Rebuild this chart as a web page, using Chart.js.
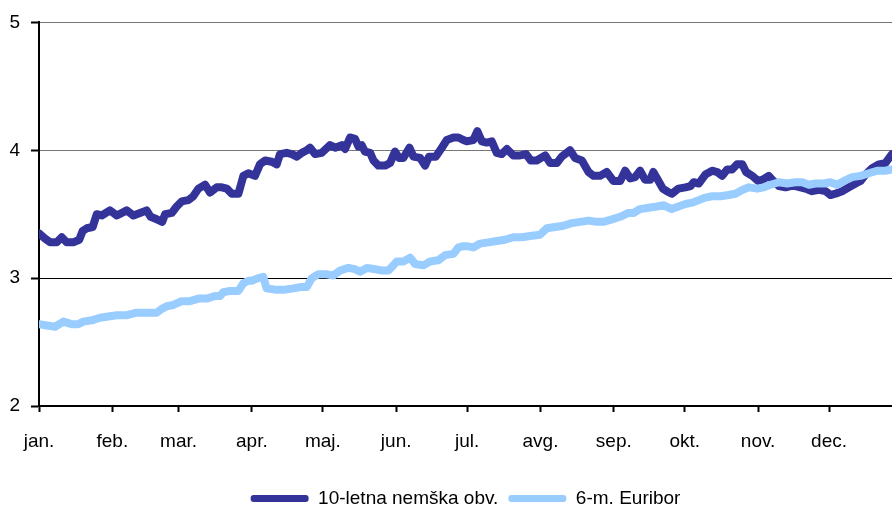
<!DOCTYPE html>
<html>
<head>
<meta charset="utf-8">
<script src="https://cdn.jsdelivr.net/npm/chart.js@4"></script>
<style>
  body { margin: 0; background: #fff; }
  #wrap { width: 892px; height: 513px; }
</style>
</head>
<body>
<div id="wrap"><canvas id="chart"></canvas></div>
<script>
// months: tick positions are day-of-year of each month start
const monthLabels = ["jan.", "feb.", "mar.", "apr.", "maj.", "jun.", "jul.", "avg.", "sep.", "okt.", "nov.", "dec."];
const monthStarts = [0, 31, 59, 90, 120, 151, 181, 212, 243, 273, 304, 334];
const lastDay = 360.6;

const seriesNames = ["10-letna nemška obv.", "6-m. Euribor"];

// 10-year German bund yield
const bundDays = [0, 2.5, 4.7, 7.5, 9.6, 11.7, 14.5, 17, 18.5, 20.2, 22.7, 24.4, 26.5, 30, 32.9, 37.1, 39.9, 42.7, 45.5, 47.2,
  49.8, 52.1, 53.3, 56.1, 58.2, 60.3, 63.1, 65.2, 67.4, 70.2, 72.3, 75.1, 77.3, 79.4, 81.5, 84.3, 86.4, 88.5, 91.3, 93.4,
  95.6, 98.4, 100.5, 101.9, 104.7, 106.9, 109, 111.1, 113.2, 114.6, 116.7, 119.5, 123, 125.2, 128, 129.4, 131.5, 133.6, 135, 136.4,
  137.8, 140, 141.4, 143.5, 146.3, 148.4, 150.5, 152.2, 154, 156.6, 158.3, 161.1, 163.2, 164.9, 167.7, 170.3, 172.4, 175.2, 177.3, 179.4,
  180.8, 183.6, 185.3, 187.2, 189.3, 191.4, 193.5, 195.6, 197.8, 200.5, 203.4, 205.9, 207.9, 210.4, 214, 216.1, 218.9, 221, 224.5, 226.6,
  229.5, 232.3, 234.4, 237.2, 240, 242.8, 245.7, 247.8, 249.9, 252, 254.1, 256.2, 258.4, 259.7, 261.9, 263.7, 265.4, 267.5, 270.3, 273.3,
  275.4, 276.8, 278.9, 281.7, 284.6, 286.7, 288.8, 290.9, 293, 295.1, 297.3, 298.9, 301.5, 304, 306, 308.5, 309.9, 312.8, 315.6, 317.7,
  319.8, 321.9, 324, 326.8, 329.7, 332.5, 334.6, 336.7, 339.5, 342.4, 345.2, 347.3, 349.4, 352.2, 355.1, 357.8, 360.6];
const bundYield = [3.35, 3.31, 3.28, 3.28, 3.32, 3.28, 3.28, 3.30, 3.37, 3.39, 3.40, 3.50, 3.49, 3.53, 3.49, 3.53, 3.49, 3.51, 3.53, 3.48,
  3.46, 3.44, 3.50, 3.51, 3.56, 3.60, 3.61, 3.64, 3.70, 3.73, 3.67, 3.71, 3.71, 3.70, 3.66, 3.66, 3.80, 3.82, 3.80, 3.89,
  3.92, 3.91, 3.89, 3.97, 3.98, 3.97, 3.95, 3.98, 4.00, 4.02, 3.97, 3.98, 4.04, 4.02, 4.04, 4.01, 4.10, 4.09, 4.03, 4.04,
  3.99, 3.98, 3.92, 3.88, 3.88, 3.90, 3.99, 3.94, 3.94, 4.02, 3.95, 3.94, 3.88, 3.95, 3.95, 4.02, 4.08, 4.10, 4.10, 4.08,
  4.07, 4.08, 4.15, 4.07, 4.06, 4.07, 3.98, 3.97, 4.01, 3.96, 3.96, 3.97, 3.92, 3.92, 3.96, 3.90, 3.90, 3.95, 4.00, 3.94,
  3.92, 3.83, 3.80, 3.80, 3.83, 3.76, 3.76, 3.84, 3.78, 3.79, 3.84, 3.77, 3.77, 3.83, 3.76, 3.70, 3.68, 3.66, 3.70, 3.71,
  3.72, 3.75, 3.74, 3.81, 3.84, 3.83, 3.80, 3.85, 3.85, 3.89, 3.89, 3.83, 3.80, 3.76, 3.77, 3.80, 3.77, 3.72, 3.71, 3.72,
  3.72, 3.71, 3.70, 3.68, 3.69, 3.68, 3.65, 3.66, 3.68, 3.71, 3.74, 3.76, 3.81, 3.86, 3.89, 3.90, 3.97];

// 6-month Euribor
const euriborDays = [0, 3.3, 6.8, 10.3, 13.8, 16.6, 18.7, 22.3, 25.8, 29.3, 32.9, 37.1, 41.3, 45.5, 49.8, 51.9, 54, 56.8, 60.3, 63.8,
  67.4, 70.9, 74.4, 76.5, 77.9, 80.8, 84.3, 86.4, 88.5, 89.9, 92.7, 94.8, 96.2, 99.8, 104, 107.5, 110.4, 113.2, 115.3, 118.1,
  121.6, 124.4, 127.3, 130.8, 133.6, 135.7, 138.6, 142.1, 144.9, 147.7, 149.8, 151.2, 154, 156.9, 159, 162.5, 165.3, 168.8, 171.7, 175.2,
  177.3, 179.4, 180.8, 183.6, 186.5, 190, 193.5, 197, 200.5, 204.1, 207.6, 211.8, 214.7, 218.2, 221.7, 225.2, 228.8, 232.3, 235.8, 238.6,
  242.2, 245.7, 249.2, 251.3, 254.1, 257.7, 261.2, 264, 267.5, 270.3, 273.3, 276.1, 278.9, 281.7, 284.6, 288.1, 291.6, 294.4, 297.3, 300.1,
  303.6, 306.4, 309.2, 312.8, 316.3, 319.8, 322.6, 325.5, 328.2, 331.8, 334.6, 337.4, 340.3, 343.8, 347.3, 350.8, 354.3, 357.8, 360.6];
const euriborRate = [2.64, 2.63, 2.62, 2.66, 2.64, 2.64, 2.66, 2.67, 2.69, 2.70, 2.71, 2.71, 2.73, 2.73, 2.73, 2.76, 2.78, 2.79, 2.82, 2.82,
  2.84, 2.84, 2.86, 2.86, 2.89, 2.90, 2.90, 2.96, 2.98, 2.98, 3.00, 3.01, 2.92, 2.91, 2.91, 2.92, 2.93, 2.93, 3.00, 3.03,
  3.03, 3.02, 3.06, 3.08, 3.07, 3.05, 3.08, 3.07, 3.06, 3.06, 3.10, 3.13, 3.13, 3.16, 3.11, 3.10, 3.13, 3.14, 3.18, 3.19,
  3.24, 3.25, 3.25, 3.24, 3.27, 3.28, 3.29, 3.30, 3.32, 3.32, 3.33, 3.34, 3.39, 3.40, 3.41, 3.43, 3.44, 3.45, 3.44, 3.44,
  3.46, 3.48, 3.51, 3.51, 3.54, 3.55, 3.56, 3.57, 3.54, 3.56, 3.58, 3.59, 3.61, 3.63, 3.64, 3.64, 3.65, 3.66, 3.69, 3.71,
  3.70, 3.71, 3.73, 3.75, 3.74, 3.75, 3.75, 3.73, 3.74, 3.74, 3.75, 3.73, 3.76, 3.79, 3.80, 3.82, 3.84, 3.84, 3.85];

const yTicks = [2, 3, 4, 5];

const toPoints = (xs, ys) => xs.map((x, i) => ({ x: x, y: ys[i] }));
const font = { family: "'Liberation Sans', Arial, sans-serif", size: 19 };

new Chart(document.getElementById("chart"), {
  type: "line",
  data: {
    datasets: [{
      label: seriesNames[0],
      data: toPoints(bundDays, bundYield),
      borderColor: "#333399",
      backgroundColor: "#333399",
      borderWidth: 8,
      order: 1
    }, {
      label: seriesNames[1],
      data: toPoints(euriborDays, euriborRate),
      borderColor: "#99ccff",
      backgroundColor: "#99ccff",
      borderWidth: 8,
      order: 0
    }]
  },
  options: {
    responsive: true,
    maintainAspectRatio: false,
    animation: false,
    layout: { padding: { top: 20, right: 0, bottom: -5, left: 0 } },
    elements: {
      point: { radius: 0 },
      line: { tension: 0, borderJoinStyle: "round", borderCapStyle: "round" }
    },
    scales: {
      x: {
        type: "linear",
        min: 0,
        max: lastDay,
        afterBuildTicks: scale => { scale.ticks = monthStarts.map(v => ({ value: v })); },
        afterFit: scale => { scale.height = 73; },
        border: { display: true, color: "#000", width: 2 },
        grid: { drawOnChartArea: false, drawTicks: true, tickLength: 6, tickWidth: 2, tickColor: "#000" },
        ticks: {
          autoSkip: false,
          maxRotation: 0,
          padding: 18,
          color: "#000",
          font: font,
          callback: (value, index) => monthLabels[index]
        }
      },
      y: {
        min: 2,
        max: 5,
        afterBuildTicks: scale => { scale.ticks = yTicks.map(v => ({ value: v })); },
        afterFit: scale => { scale.width = 39; },
        border: { display: true, color: "#000", width: 2 },
        grid: {
          color: ctx => ctx.tick && ctx.tick.value === 3 ? "#000" : "#777",
          lineWidth: 1,
          tickLength: 8,
          tickWidth: 2,
          tickColor: "#000"
        },
        ticks: { padding: 11, color: "#000", font: font }
      }
    },
    plugins: {
      tooltip: { enabled: false },
      legend: {
        position: "bottom",
        fullSize: false,
        labels: {
          color: "#000",
          font: font,
          boxWidth: 58,
          boxHeight: 7,
          padding: 10,
          useBorderRadius: true,
          borderRadius: 3,
          sort: (a, b) => a.datasetIndex - b.datasetIndex,
          generateLabels: chart => Chart.defaults.plugins.legend.labels.generateLabels(chart)
            .map(item => ({ ...item, lineWidth: 0, fillStyle: item.strokeStyle }))
        }
      }
    }
  }
});
</script>
</body>
</html>
